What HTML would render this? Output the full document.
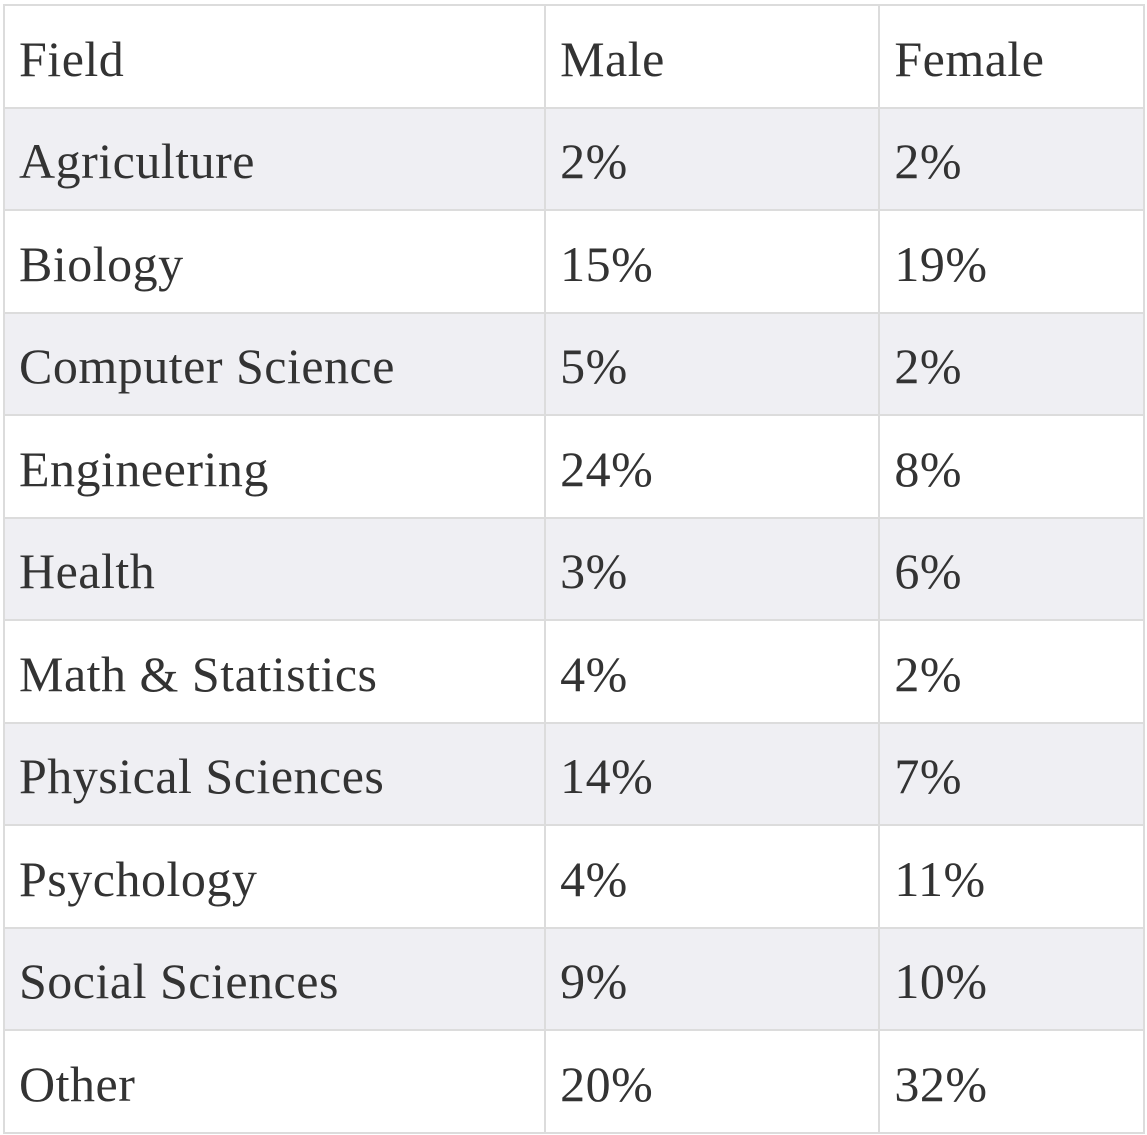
<!DOCTYPE html>
<html><head><meta charset="utf-8"><style>
html,body{margin:0;padding:0;background:#fff;width:1147px;height:1135px;overflow:hidden}
table{position:absolute;left:3px;top:4px;border-collapse:collapse;width:1142px;font-family:"Liberation Serif",serif;font-size:50px;letter-spacing:0.5px;color:#333}
td,th{border:2.5px solid #dcdcdc;height:102.5px;padding:5px 0 0 14px;text-align:left;font-weight:normal;vertical-align:middle;box-sizing:border-box}
tr:nth-child(even) td{background:#efeff3}
col.a{width:542px}col.b{width:335px}col.c{width:265px}
</style></head><body>
<table>
<colgroup><col class="a"><col class="b"><col class="c"></colgroup>
<tr><th>Field</th><th>Male</th><th>Female</th></tr>
<tr><td>Agriculture</td><td>2%</td><td>2%</td></tr>
<tr><td>Biology</td><td>15%</td><td>19%</td></tr>
<tr><td>Computer Science</td><td>5%</td><td>2%</td></tr>
<tr><td>Engineering</td><td>24%</td><td>8%</td></tr>
<tr><td>Health</td><td>3%</td><td>6%</td></tr>
<tr><td>Math &amp; Statistics</td><td>4%</td><td>2%</td></tr>
<tr><td>Physical Sciences</td><td>14%</td><td>7%</td></tr>
<tr><td>Psychology</td><td>4%</td><td>11%</td></tr>
<tr><td>Social Sciences</td><td>9%</td><td>10%</td></tr>
<tr><td>Other</td><td>20%</td><td>32%</td></tr>
</table>
</body></html>
